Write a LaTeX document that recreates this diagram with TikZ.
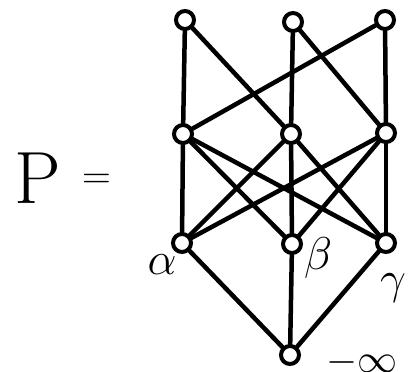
\RequirePackage{fix-cm}
\documentclass[tikz,border=0pt]{standalone}
\usepackage{amsmath}
\usepackage{amssymb}
\usepackage{xcolor}
\newcommand{\lblfont}{\fontsize{46}{46}\selectfont}
\newcommand{\botfont}{\fontsize{40}{40}\selectfont}

\begin{document}
\begin{tikzpicture}[
  x=1pt, y=-1pt,
  pt/.style={draw, circle, line width=4pt, inner sep=0pt, minimum size=18pt, fill=white},
  edge/.style={line width=4.5pt, line cap=round},
  lbl/.style={font=\lblfont, inner sep=0pt}
]
  \useasboundingbox (0,0) rectangle (419,371);

  % top row
  \node[pt] (t1) at (185,20) {};
  \node[pt] (t2) at (293,22) {};
  \node[pt] (t3) at (385,20) {};
  % middle row
  \node[pt] (m1) at (183,134) {};
  \node[pt] (m2) at (291,134) {};
  \node[pt] (m3) at (386,133) {};
  % atoms
  \node[pt] (a) at (182,243) {};
  \node[pt] (b) at (292,244) {};
  \node[pt] (c) at (386,243) {};
  % bottom
  \node[pt] (z) at (290,355) {};

  \node[font=\fontsize{74}{74}\selectfont, inner sep=0pt] (p) at (38,178) {P};
  \node[font=\fontsize{40}{40}\selectfont, inner sep=0pt] (eq) at (97,181) {=};
  \node[lbl] (la) at (162,265) {$\alpha$};
  \node[lbl] (lb) at (318,258) {$\beta$};
  \node[lbl] (lc) at (393,288) {$\gamma$};
  \node[font=\botfont, inner sep=0pt, right] (lz) at (326,362) {$-\infty$};

  \draw[edge] (t1) -- (m1);
  \draw[edge] (t1) -- (m2);
  \draw[edge] (t2) -- (m2);
  \draw[edge] (t2) -- (m3);
  \draw[edge] (t3) -- (m3);
  \draw[edge] (t3) -- (m1);
  \foreach \u in {m1,m2,m3}
    \foreach \v in {a,b,c}
      \draw[edge] (\u) -- (\v);
  \draw[edge] (a) -- (z);
  \draw[edge] (b) -- (z);
  \draw[edge] (c) -- (z);
\end{tikzpicture}
\end{document}
